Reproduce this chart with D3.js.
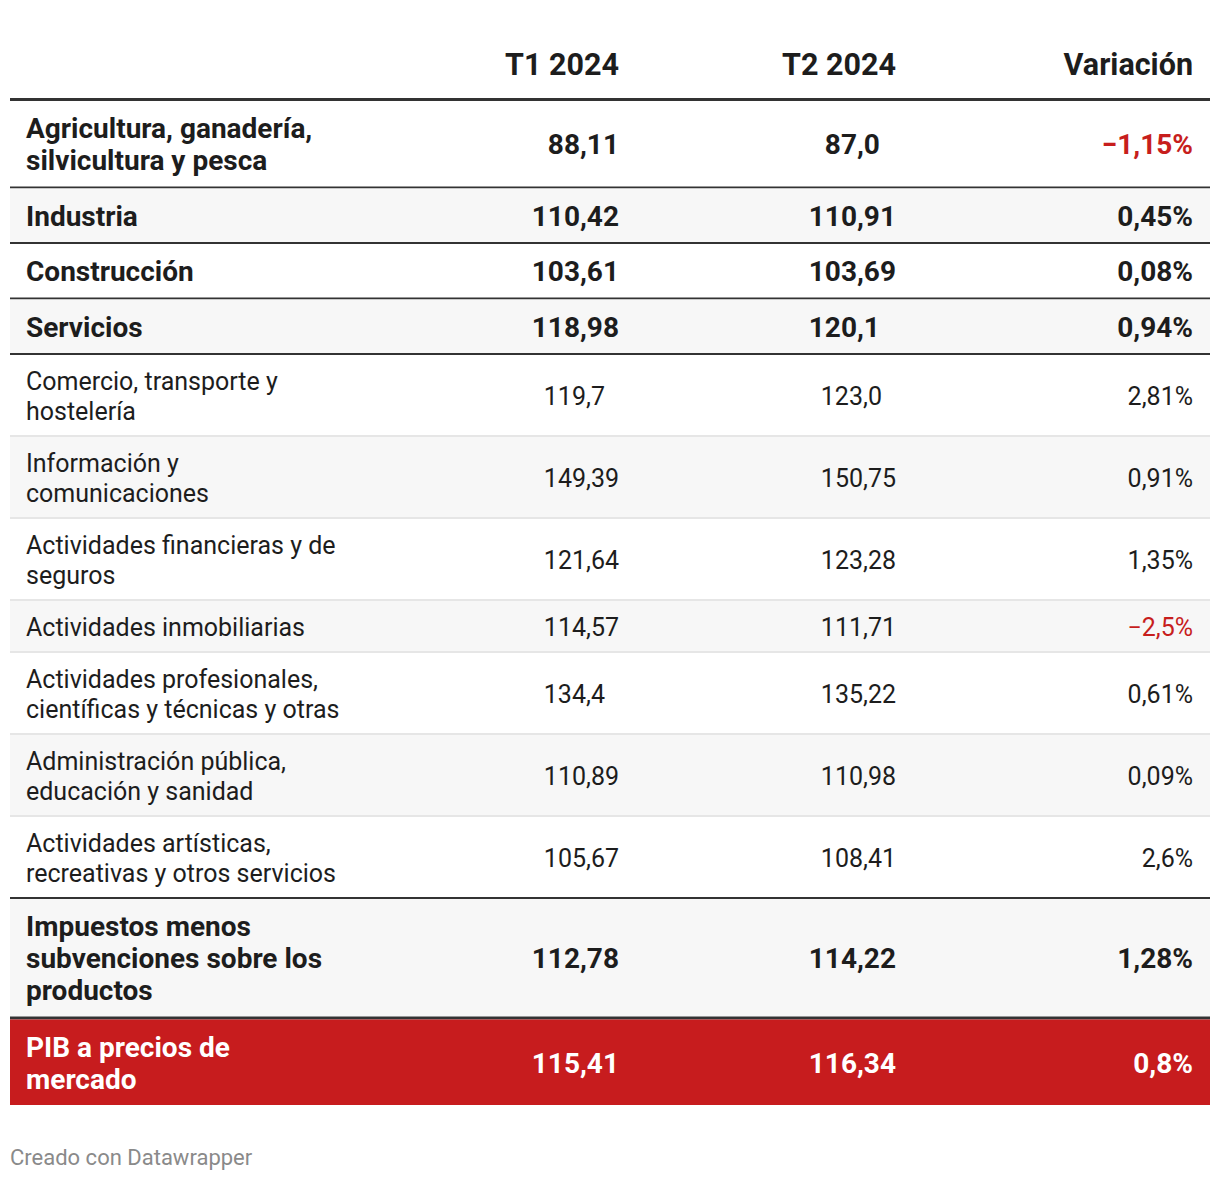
<!DOCTYPE html>
<html>
<head>
<meta charset="utf-8">
<script src="https://cdn.jsdelivr.net/npm/d3@7"></script>
<style>
  html, body { margin: 0; padding: 0; background: #fff; }
  svg text { font-family: Roboto, "Noto Sans", sans-serif; }
</style>
</head>
<body>
<svg id="chart" width="1220" height="1180"></svg>
<script>
// ---- data ----
const headers = ["", "T1 2024", "T2 2024", "Variación"];
const labels = [
  "Agricultura, ganadería,\nsilvicultura y pesca",
  "Industria",
  "Construcción",
  "Servicios",
  "Comercio, transporte y\nhostelería",
  "Información y\ncomunicaciones",
  "Actividades financieras y de\nseguros",
  "Actividades inmobiliarias",
  "Actividades profesionales,\ncientíficas y técnicas y otras",
  "Administración pública,\neducación y sanidad",
  "Actividades artísticas,\nrecreativas y otros servicios",
  "Impuestos menos\nsubvenciones sobre los\nproductos",
  "PIB a precios de\nmercado"
];
const t1Values = ["88,11", "110,42", "103,61", "118,98", "119,7", "149,39", "121,64", "114,57", "134,4", "110,89", "105,67", "112,78", "115,41"];
const t2Values = ["87,0", "110,91", "103,69", "120,1", "123,0", "150,75", "123,28", "111,71", "135,22", "110,98", "108,41", "114,22", "116,34"];
const variation = [-1.15, 0.45, 0.08, 0.94, 2.81, 0.91, 1.35, -2.5, 0.61, 0.09, 2.6, 1.28, 0.8];
const rowStyle = ["bold", "bold", "bold", "bold", "normal", "normal", "normal", "normal", "normal", "normal", "normal", "bold", "total"];
const footerText = "Creado con Datawrapper";

// ---- layout ----
const svg = d3.select("#chart");
const tableX0 = 10, tableX1 = 1210;
const colRight = [null, 619, 896, 1193];
const labelX = 26;
const maxDecimals = 2;
const C = {
  text: "#1d1d1d", red: "#c71e1d", redBg: "#c71c1e", zebra: "#f7f7f7",
  light: "#e6e6e6", dark: "#333333", footer: "#8a8a8a"
};
const fmtVar = v => (v < 0 ? "\u2212" : "") + String(Math.abs(v)).replace(".", ",") + "%";

// digit width measurement for decimal alignment
function digitWidth(fs, fw) {
  const t = svg.append("text").attr("font-size", fs).attr("font-weight", fw).text("0000000000");
  const w = t.node().getComputedTextLength() / 10;
  t.remove();
  return w;
}

// header
const headG = svg.append("g");
headers.forEach((h, i) => {
  if (!h) return;
  headG.append("text")
    .attr("x", colRight[i]).attr("y", 64)
    .attr("text-anchor", "end").attr("dominant-baseline", "central")
    .attr("font-size", 30.5).attr("font-weight", 700).attr("fill", C.text)
    .text(h);
});
headG.append("rect").attr("x", tableX0).attr("y", 98).attr("width", tableX1 - tableX0).attr("height", 3).attr("fill", C.dark);

// rows
const rows = labels.map((l, i) => ({
  lines: l.split("\n"), t1: t1Values[i], t2: t2Values[i], v: variation[i], style: rowStyle[i], i
}));

let y = 101;
rows.forEach((r, i) => {
  const bold = r.style !== "normal";
  const lh = bold ? 32 : 30;
  const pad = bold ? 21.5 : 20;
  const h = r.lines.length * lh + pad;
  r.y0 = y; r.h = h; r.lh = lh;
  y += h;
  const next = rows[i + 1];
  if (next) {
    let bw = 2, bc = C.light;
    if (next.style === "total") { bw = 3; bc = C.dark; }
    else if (r.style === "bold" || next.style === "bold") { bc = C.dark; }
    r.border = { y: y, w: bw, c: bc };
    y += bw;
  }
});

const g = svg.append("g");
rows.forEach((r, i) => {
  const isTotal = r.style === "total";
  const bg = isTotal ? C.redBg : (i % 2 === 1 ? C.zebra : "#ffffff");
  g.append("rect").attr("x", tableX0).attr("y", r.y0).attr("width", tableX1 - tableX0).attr("height", r.h).attr("fill", bg);
  if (r.border) g.append("rect").attr("x", tableX0).attr("y", r.border.y).attr("width", tableX1 - tableX0).attr("height", r.border.w).attr("fill", r.border.c);

  const bold = r.style !== "normal";
  const fs = bold ? 28 : 25;
  const fw = bold ? 700 : 400;
  const col = isTotal ? "#ffffff" : C.text;
  const cy = r.y0 + r.h / 2 + 1;
  const n = r.lines.length;
  const dw = digitWidth(fs, fw);

  const lt = g.append("text").attr("font-size", fs).attr("font-weight", fw).attr("fill", col);
  r.lines.forEach((ln, k) => {
    lt.append("tspan").attr("x", labelX)
      .attr("y", cy + (k - (n - 1) / 2) * r.lh)
      .attr("dominant-baseline", "central").text(ln);
  });
  // T1 / T2: decimal-aligned
  [r.t1, r.t2].forEach((val, c) => {
    const dec = val.includes(",") ? val.split(",")[1].length : 0;
    g.append("text")
      .attr("x", colRight[c + 1] - (maxDecimals - dec) * dw).attr("y", cy)
      .attr("text-anchor", "end").attr("dominant-baseline", "central")
      .attr("font-size", fs).attr("font-weight", fw).attr("fill", col)
      .text(val);
  });
  // Variation: right-aligned
  g.append("text")
    .attr("x", colRight[3]).attr("y", cy)
    .attr("text-anchor", "end").attr("dominant-baseline", "central")
    .attr("font-size", fs).attr("font-weight", fw)
    .attr("fill", r.v < 0 && !isTotal ? C.red : col)
    .text(fmtVar(r.v));
});

svg.append("text").attr("x", 10).attr("y", 1157)
  .attr("dominant-baseline", "central")
  .attr("font-size", 22).attr("fill", C.footer).text(footerText);
</script>
</body>
</html>
